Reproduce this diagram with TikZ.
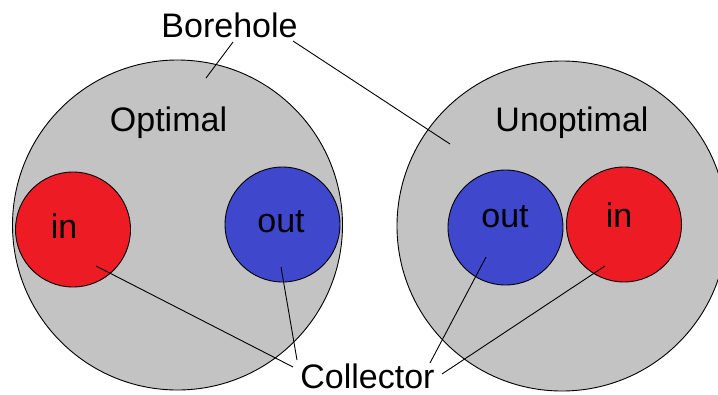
\documentclass[tikz,border=0pt]{standalone}
\usepackage{fontspec}
\setmainfont{Liberation Sans}
\definecolor{bhgray}{HTML}{C3C3C3}
\definecolor{inred}{HTML}{ED1C24}
\definecolor{outblue}{HTML}{3F48CC}
\begin{document}
\begin{tikzpicture}[x=1pt,y=-1pt,
  bore/.style={circle,draw=black,line width=0.9pt,fill=bhgray,minimum size=330pt,inner sep=0pt},
  pipein/.style={circle,draw=black,line width=0.9pt,fill=inred,minimum size=115pt,inner sep=0pt},
  pipeout/.style={circle,draw=black,line width=0.9pt,fill=outblue,minimum size=115pt,inner sep=0pt},
  lbl/.style={font=\fontsize{34}{40}\selectfont,anchor=base,inner sep=0pt},
  leader/.style={draw=black,line width=0.9pt}]
\useasboundingbox (0,0) rectangle (718,394);
% boreholes
\node[bore] (bl) at (177.5,225) {};
\node[bore] (br) at (562,226) {};
% collectors
\node[pipein] (inL) at (73,229.5) {};
\node[pipeout] (outL) at (282.5,224.5) {};
\node[pipeout] (outR) at (505.5,227.5) {};
\node[pipein] (inR) at (624,224.5) {};
% labels
\node[lbl] (bh) at (229.5,37) {Borehole};
\node[lbl] (opt) at (168.5,131) {Optimal};
\node[lbl] (unopt) at (572,131) {Unoptimal};
\node[lbl] (tinL) at (64,238) {in};
\node[lbl] (toutL) at (281,232) {out};
\node[lbl] (toutR) at (505,227) {out};
\node[lbl] (tinR) at (619,227) {in};
\node[lbl] (col) at (367.5,388) {Collector};
% leader end points
\coordinate (bhA) at (233,42);
\coordinate (bhB) at (293,41);
\coordinate (pL) at (206,78);
\coordinate (pR) at (450,144);
\coordinate (cinL) at (96,266);
\coordinate (coutL) at (281,267);
\coordinate (coutR) at (486,257);
\coordinate (cinR) at (605,266);
\coordinate (kA) at (293,367);
\coordinate (kB) at (297,360);
\coordinate (kC) at (430,363);
\coordinate (kD) at (442,374);
% leaders
\draw[leader] (bhA) -- (pL);
\draw[leader] (bhB) -- (pR);
\draw[leader] (cinL) -- (kA);
\draw[leader] (coutL) -- (kB);
\draw[leader] (coutR) -- (kC);
\draw[leader] (cinR) -- (kD);
\end{tikzpicture}
\end{document}
